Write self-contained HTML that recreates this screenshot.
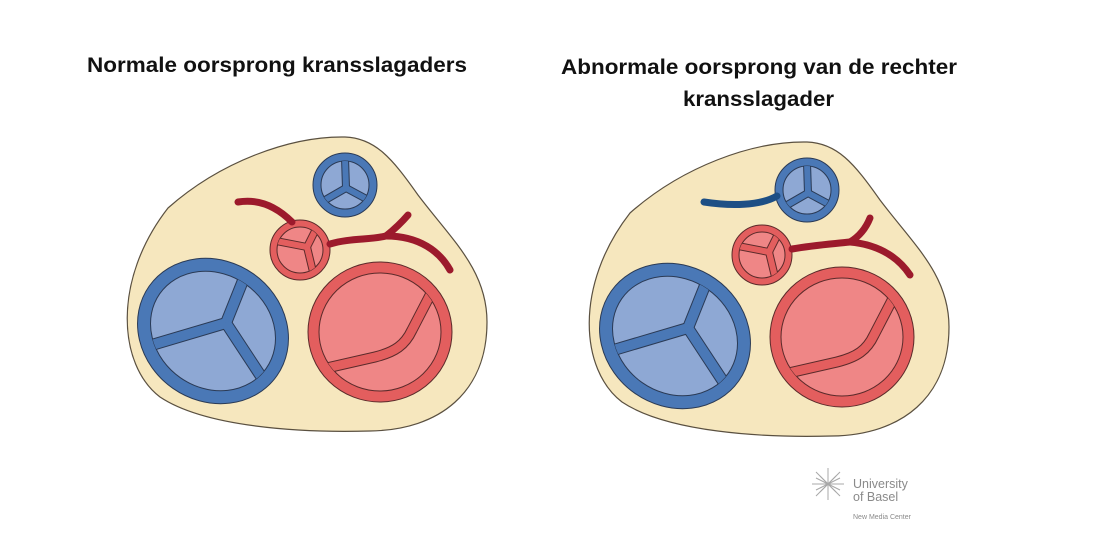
<!DOCTYPE html>
<html><head><meta charset="utf-8"><style>
html,body{margin:0;padding:0;background:#fff;width:1103px;height:559px;overflow:hidden}
svg{display:block}
</style></head><body>
<svg width="1103" height="559" viewBox="0 0 1103 559" xmlns="http://www.w3.org/2000/svg">
<defs>
<clipPath id="cb"><ellipse rx="65" ry="57" transform="translate(213,331) rotate(35)"/></clipPath>
<clipPath id="cr"><ellipse cx="380" cy="332" rx="61" ry="59"/></clipPath>
<clipPath id="csb"><circle cx="345" cy="185" r="24"/></clipPath>
<clipPath id="csr"><circle cx="300" cy="250" r="23"/></clipPath>
<g id="heart">
  <path d="M168,208 C220,162 290,136 345,137 C375,138 392,158 418,195 C452,240 487,270 487,322 C487,392 440,430 370,431 C300,433 205,427 160,397 C118,365 112,280 168,208 Z" fill="#f6e7be" stroke="#5a5040" stroke-width="1.2"/>
  <!-- big blue valve -->
  <g transform="translate(213,331) rotate(35)">
    <ellipse rx="78" ry="70" fill="#4a78b6" stroke="#2a3a55" stroke-width="1"/>
    <ellipse rx="65" ry="57" fill="#8ea8d4" stroke="#2a3a55" stroke-width="1"/>
  </g>
  <g clip-path="url(#cb)" fill="none" stroke-linejoin="round">
    <g stroke="#2a3a55" stroke-width="12">
      <path d="M226,323 L244,278"/><path d="M226,323 L145,347"/><path d="M226,323 L270,390"/>
    </g>
    <g stroke="#4a78b6" stroke-width="10">
      <path d="M226,323 L244,278"/><path d="M226,323 L145,347"/><path d="M226,323 L270,390"/>
    </g>
  </g>
  <!-- big red valve -->
  <ellipse cx="380" cy="332" rx="72" ry="70" fill="#e35e5e" stroke="#5a2a2a" stroke-width="1"/>
  <ellipse cx="380" cy="332" rx="61" ry="59" fill="#ef8686" stroke="#5a2a2a" stroke-width="1"/>
  <g clip-path="url(#cr)" fill="none">
    <path d="M440,276 L412,330 C405,345 395,352 375,357 L318,370" stroke="#5a2a2a" stroke-width="11"/>
    <path d="M440,276 L412,330 C405,345 395,352 375,357 L318,370" stroke="#e35e5e" stroke-width="9"/>
  </g>
  <!-- small blue -->
  <circle cx="345" cy="185" r="32" fill="#4a78b6" stroke="#2a3a55" stroke-width="1"/>
  <circle cx="345" cy="185" r="24" fill="#8ea8d4" stroke="#2a3a55" stroke-width="1"/>
  <g clip-path="url(#csb)" fill="none">
    <g stroke="#2a3a55" stroke-width="8"><path d="M346,188 L345,158"/><path d="M346,188 L320,203"/><path d="M346,188 L372,202"/></g>
    <g stroke="#4a78b6" stroke-width="6"><path d="M346,188 L345,158"/><path d="M346,188 L320,203"/><path d="M346,188 L372,202"/></g>
  </g>
  <!-- small red -->
  <circle cx="300" cy="250" r="30" fill="#e35e5e" stroke="#5a2a2a" stroke-width="1"/>
  <circle cx="300" cy="250" r="23" fill="#ef8686" stroke="#5a2a2a" stroke-width="1"/>
  <g clip-path="url(#csr)" fill="none">
    <g stroke="#5a2a2a" stroke-width="8"><path d="M307,247 L276,241"/><path d="M307,247 L318,225"/><path d="M307,247 L314,276"/></g>
    <g stroke="#e35e5e" stroke-width="6"><path d="M307,247 L276,241"/><path d="M307,247 L318,225"/><path d="M307,247 L314,276"/></g>
  </g>
</g>
</defs>
<use href="#heart"/>
<use href="#heart" transform="translate(462,5)"/>
<!-- left arteries -->
<g stroke="#9c1a2c" stroke-width="7" stroke-linecap="round" fill="none">
  <path d="M238,202 C262,198 280,210 292,222"/>
  <path d="M330,244 C350,238 370,240 386,236"/>
  <path d="M386,236 C396,228 402,222 408,215"/>
  <path d="M386,236 C420,236 440,252 450,270"/>
</g>
<!-- right arteries -->
<g stroke="#9c1a2c" stroke-width="7" stroke-linecap="round" fill="none">
  <path d="M792,249 C815,245 832,244 850,242"/>
  <path d="M850,242 C860,236 866,228 870,218"/>
  <path d="M850,242 C882,245 900,260 910,275"/>
</g>
<path d="M704,202 C730,206 760,206 777,196" stroke="#1d4f85" stroke-width="7" stroke-linecap="round" fill="none"/>
<!-- titles -->
<g font-family="Liberation Sans, sans-serif" font-weight="bold" font-size="21" fill="#111">
  <text x="87" y="72" textLength="380" lengthAdjust="spacingAndGlyphs">Normale oorsprong kransslagaders</text>
  <text x="561" y="74" textLength="396" lengthAdjust="spacingAndGlyphs">Abnormale oorsprong van de rechter</text>
  <text x="683" y="106" textLength="151" lengthAdjust="spacingAndGlyphs">kransslagader</text>
</g>
<!-- logo -->
<g stroke="#a8a8a8" stroke-width="1" fill="none">
  <path d="M812,484 L844,484 M828,468 L828,500 M816,472 L840,496 M840,472 L816,496"/>
  <path d="M820,476 L836,492 M836,476 L820,492 M816,478 L840,490 M816,490 L840,478"/>
</g>
<g font-family="Liberation Sans, sans-serif" fill="#8a8a8a">
  <text x="853" y="488" font-size="12.5">University</text>
  <text x="853" y="501" font-size="12.5">of Basel</text>
  <text x="853" y="519" font-size="7">New Media Center</text>
</g>
</svg>
</body></html>
